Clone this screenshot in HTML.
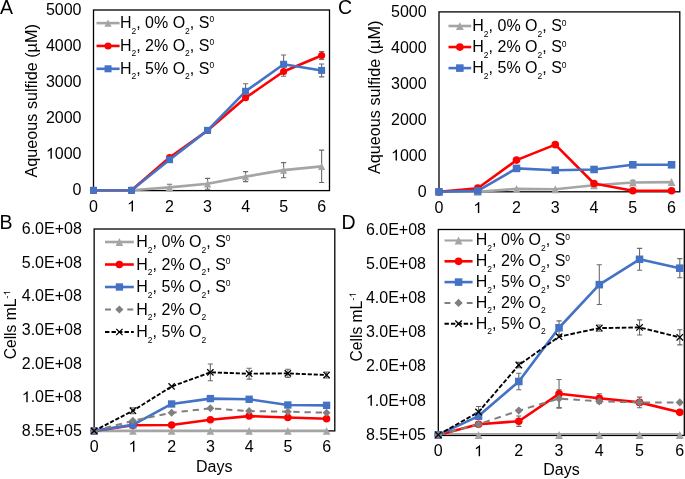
<!DOCTYPE html>
<html><head><meta charset="utf-8"><style>
html,body{margin:0;padding:0;background:#fff;width:685px;height:479px;overflow:hidden}
svg{display:block;will-change:transform}
text{font-family:"Liberation Sans", sans-serif;fill:#000}
</style></head><body>
<svg width="685" height="479" viewBox="0 0 685 479">
<rect width="685" height="479" fill="#fff"/>
<g id="pA">
<rect x="93.5" y="10" width="236" height="180.6" fill="none" stroke="#000" stroke-width="1.3"/>
<path d="M93.5 190.3L131.52 190.3L169.54 187.42L207.56 183.82L245.58 176.62L283.6 170.14L321.62 166.36" fill="none" stroke="#A5A5A5" stroke-width="2.6" stroke-linejoin="round"/>
<path d="M93.5 190.3L131.52 190.3L169.54 157.54L207.56 130.54L245.58 97.78L283.6 71.5L321.62 55.48" fill="none" stroke="#FF0000" stroke-width="2.6" stroke-linejoin="round"/>
<path d="M93.5 190.3L131.52 190.3L169.54 159.7L207.56 130.36L245.58 91.3L283.6 64.3L321.62 70.42" fill="none" stroke="#4472C4" stroke-width="2.6" stroke-linejoin="round"/>
<path d="M169.54 184.18V190.66M166.94 184.18H172.14M166.94 190.66H172.14" stroke="#6b6b6b" stroke-width="1.1" fill="none"/>
<path d="M207.56 178.42V189.22M204.96 178.42H210.16M204.96 189.22H210.16" stroke="#6b6b6b" stroke-width="1.1" fill="none"/>
<path d="M245.58 171.58V181.66M242.98 171.58H248.18M242.98 181.66H248.18" stroke="#6b6b6b" stroke-width="1.1" fill="none"/>
<path d="M283.6 162.58V177.7M281 162.58H286.2M281 177.7H286.2" stroke="#6b6b6b" stroke-width="1.1" fill="none"/>
<path d="M321.62 150.16V182.56M319.02 150.16H324.22M319.02 182.56H324.22" stroke="#6b6b6b" stroke-width="1.1" fill="none"/>
<path d="M283.6 66.82V76.18M281 66.82H286.2M281 76.18H286.2" stroke="#6b6b6b" stroke-width="1.1" fill="none"/>
<path d="M321.62 51.52V59.44M319.02 51.52H324.22M319.02 59.44H324.22" stroke="#6b6b6b" stroke-width="1.1" fill="none"/>
<path d="M245.58 83.74V98.86M242.98 83.74H248.18M242.98 98.86H248.18" stroke="#6b6b6b" stroke-width="1.1" fill="none"/>
<path d="M283.6 54.94V73.66M281 54.94H286.2M281 73.66H286.2" stroke="#6b6b6b" stroke-width="1.1" fill="none"/>
<path d="M321.62 63.94V76.9M319.02 63.94H324.22M319.02 76.9H324.22" stroke="#6b6b6b" stroke-width="1.1" fill="none"/>
<path d="M93.5 186.6L97.1 194L89.9 194Z" fill="#A5A5A5"/>
<path d="M131.52 186.6L135.12 194L127.92 194Z" fill="#A5A5A5"/>
<path d="M169.54 183.72L173.14 191.12L165.94 191.12Z" fill="#A5A5A5"/>
<path d="M207.56 180.12L211.16 187.52L203.96 187.52Z" fill="#A5A5A5"/>
<path d="M245.58 172.92L249.18 180.32L241.98 180.32Z" fill="#A5A5A5"/>
<path d="M283.6 166.44L287.2 173.84L280 173.84Z" fill="#A5A5A5"/>
<path d="M321.62 162.66L325.22 170.06L318.02 170.06Z" fill="#A5A5A5"/>
<circle cx="93.5" cy="190.3" r="3.55" fill="#FF0000"/>
<circle cx="131.52" cy="190.3" r="3.55" fill="#FF0000"/>
<circle cx="169.54" cy="157.54" r="3.55" fill="#FF0000"/>
<circle cx="207.56" cy="130.54" r="3.55" fill="#FF0000"/>
<circle cx="245.58" cy="97.78" r="3.55" fill="#FF0000"/>
<circle cx="283.6" cy="71.5" r="3.55" fill="#FF0000"/>
<circle cx="321.62" cy="55.48" r="3.55" fill="#FF0000"/>
<rect x="90" y="186.8" width="7" height="7" fill="#4472C4"/>
<rect x="128.02" y="186.8" width="7" height="7" fill="#4472C4"/>
<rect x="166.04" y="156.2" width="7" height="7" fill="#4472C4"/>
<rect x="204.06" y="126.86" width="7" height="7" fill="#4472C4"/>
<rect x="242.08" y="87.8" width="7" height="7" fill="#4472C4"/>
<rect x="280.1" y="60.8" width="7" height="7" fill="#4472C4"/>
<rect x="318.12" y="66.92" width="7" height="7" fill="#4472C4"/>
<text x="81.5" y="194.7" font-size="16" text-anchor="end">0</text>
<text x="81.5" y="158.7" font-size="16" text-anchor="end"> 000</text><path d="M763 0L583 0L583 1147Q518 1085 412 1023Q307 961 223 930L223 1104Q374 1175 487 1276Q600 1377 647 1466L763 1466Z" transform="translate(45.91 158.7) scale(0.00781 -0.00751)"/>
<text x="81.5" y="122.7" font-size="16" text-anchor="end">2000</text>
<text x="81.5" y="86.7" font-size="16" text-anchor="end">3000</text>
<text x="81.5" y="50.7" font-size="16" text-anchor="end">4000</text>
<text x="81.5" y="14.7" font-size="16" text-anchor="end">5000</text>
<text x="93.5" y="211.5" font-size="16" text-anchor="middle">0</text>
<text x="131.52" y="211.5" font-size="16" text-anchor="middle"> </text><path d="M763 0L583 0L583 1147Q518 1085 412 1023Q307 961 223 930L223 1104Q374 1175 487 1276Q600 1377 647 1466L763 1466Z" transform="translate(127.07 211.5) scale(0.00781 -0.00751)"/>
<text x="169.54" y="211.5" font-size="16" text-anchor="middle">2</text>
<text x="207.56" y="211.5" font-size="16" text-anchor="middle">3</text>
<text x="245.58" y="211.5" font-size="16" text-anchor="middle">4</text>
<text x="283.6" y="211.5" font-size="16" text-anchor="middle">5</text>
<text x="321.62" y="211.5" font-size="16" text-anchor="middle">6</text>
<text transform="translate(36.8 100.85) rotate(-90)" font-size="16.2" text-anchor="middle">Aqueous sulfide (µM)</text>
<path d="M96.5 23.1H119.6" stroke="#A5A5A5" stroke-width="2.6"/>
<path d="M108.05 19.4L111.65 26.8L104.45 26.8Z" fill="#A5A5A5"/>
<text x="119.9" y="27.9" font-size="16">H<tspan font-size="8.5" dy="5.7">2</tspan><tspan dy="-5.7">, 0% O</tspan><tspan font-size="8.5" dy="5.7">2</tspan><tspan dy="-5.7">, S</tspan><tspan font-size="8.5" dy="-5.6">0</tspan></text>
<path d="M96.5 45.95H119.6" stroke="#FF0000" stroke-width="2.6"/>
<circle cx="108.05" cy="45.95" r="3.55" fill="#FF0000"/>
<text x="119.9" y="50.75" font-size="16">H<tspan font-size="8.5" dy="5.7">2</tspan><tspan dy="-5.7">, 2% O</tspan><tspan font-size="8.5" dy="5.7">2</tspan><tspan dy="-5.7">, S</tspan><tspan font-size="8.5" dy="-5.6">0</tspan></text>
<path d="M96.5 68.8H119.6" stroke="#4472C4" stroke-width="2.6"/>
<rect x="104.55" y="65.3" width="7" height="7" fill="#4472C4"/>
<text x="119.9" y="73.6" font-size="16">H<tspan font-size="8.5" dy="5.7">2</tspan><tspan dy="-5.7">, 5% O</tspan><tspan font-size="8.5" dy="5.7">2</tspan><tspan dy="-5.7">, S</tspan><tspan font-size="8.5" dy="-5.6">0</tspan></text>
<text x="-0.1" y="13.8" font-size="19.5">A</text>
</g>
<g id="pC">
<rect x="439" y="11.9" width="240.8" height="179.9" fill="none" stroke="#000" stroke-width="1.3"/>
<path d="M439 191.8L477.76 191.8L516.52 188.92L555.28 189.28L594.04 185.32L632.8 182.44L671.56 182.08" fill="none" stroke="#A5A5A5" stroke-width="2.6" stroke-linejoin="round"/>
<path d="M439 191.8L477.76 188.2L516.52 160.12L555.28 144.64L594.04 183.52L632.8 190.72L671.56 190.72" fill="none" stroke="#FF0000" stroke-width="2.6" stroke-linejoin="round"/>
<path d="M439 191.8L477.76 190.9L516.52 168.4L555.28 170.2L594.04 169.48L632.8 164.8L671.56 164.8" fill="none" stroke="#4472C4" stroke-width="2.6" stroke-linejoin="round"/>
<path d="M594.04 183.88V186.76M591.44 183.88H596.64M591.44 186.76H596.64" stroke="#6b6b6b" stroke-width="1.1" fill="none"/>
<path d="M632.8 180.28V184.6M630.2 180.28H635.4M630.2 184.6H635.4" stroke="#6b6b6b" stroke-width="1.1" fill="none"/>
<path d="M439 187.8L442.89 195.8L435.11 195.8Z" fill="#A5A5A5"/>
<path d="M477.76 187.8L481.65 195.8L473.87 195.8Z" fill="#A5A5A5"/>
<path d="M516.52 184.92L520.41 192.92L512.63 192.92Z" fill="#A5A5A5"/>
<path d="M555.28 185.28L559.17 193.28L551.39 193.28Z" fill="#A5A5A5"/>
<path d="M594.04 181.32L597.93 189.32L590.15 189.32Z" fill="#A5A5A5"/>
<path d="M632.8 178.44L636.69 186.44L628.91 186.44Z" fill="#A5A5A5"/>
<path d="M671.56 178.08L675.45 186.08L667.67 186.08Z" fill="#A5A5A5"/>
<circle cx="439" cy="191.8" r="3.83" fill="#FF0000"/>
<circle cx="477.76" cy="188.2" r="3.83" fill="#FF0000"/>
<circle cx="516.52" cy="160.12" r="3.83" fill="#FF0000"/>
<circle cx="555.28" cy="144.64" r="3.83" fill="#FF0000"/>
<circle cx="594.04" cy="183.52" r="3.83" fill="#FF0000"/>
<circle cx="632.8" cy="190.72" r="3.83" fill="#FF0000"/>
<circle cx="671.56" cy="190.72" r="3.83" fill="#FF0000"/>
<rect x="435.22" y="188.02" width="7.56" height="7.56" fill="#4472C4"/>
<rect x="473.98" y="187.12" width="7.56" height="7.56" fill="#4472C4"/>
<rect x="512.74" y="164.62" width="7.56" height="7.56" fill="#4472C4"/>
<rect x="551.5" y="166.42" width="7.56" height="7.56" fill="#4472C4"/>
<rect x="590.26" y="165.7" width="7.56" height="7.56" fill="#4472C4"/>
<rect x="629.02" y="161.02" width="7.56" height="7.56" fill="#4472C4"/>
<rect x="667.78" y="161.02" width="7.56" height="7.56" fill="#4472C4"/>
<text x="426.6" y="196.5" font-size="16" text-anchor="end">0</text>
<text x="426.6" y="160.5" font-size="16" text-anchor="end"> 000</text><path d="M763 0L583 0L583 1147Q518 1085 412 1023Q307 961 223 930L223 1104Q374 1175 487 1276Q600 1377 647 1466L763 1466Z" transform="translate(391.01 160.5) scale(0.00781 -0.00751)"/>
<text x="426.6" y="124.5" font-size="16" text-anchor="end">2000</text>
<text x="426.6" y="88.5" font-size="16" text-anchor="end">3000</text>
<text x="426.6" y="52.5" font-size="16" text-anchor="end">4000</text>
<text x="426.6" y="16.5" font-size="16" text-anchor="end">5000</text>
<text x="439" y="213" font-size="16" text-anchor="middle">0</text>
<text x="477.76" y="213" font-size="16" text-anchor="middle"> </text><path d="M763 0L583 0L583 1147Q518 1085 412 1023Q307 961 223 930L223 1104Q374 1175 487 1276Q600 1377 647 1466L763 1466Z" transform="translate(473.31 213) scale(0.00781 -0.00751)"/>
<text x="516.52" y="213" font-size="16" text-anchor="middle">2</text>
<text x="555.28" y="213" font-size="16" text-anchor="middle">3</text>
<text x="594.04" y="213" font-size="16" text-anchor="middle">4</text>
<text x="632.8" y="213" font-size="16" text-anchor="middle">5</text>
<text x="671.56" y="213" font-size="16" text-anchor="middle">6</text>
<text transform="translate(379.6 97.35) rotate(-90)" font-size="16.2" text-anchor="middle">Aqueous sulfide (µM)</text>
<path d="M448.5 26H471.2" stroke="#A5A5A5" stroke-width="2.6"/>
<path d="M459.85 22L463.74 30L455.96 30Z" fill="#A5A5A5"/>
<text x="472.3" y="31.2" font-size="16">H<tspan font-size="8.5" dy="5.7">2</tspan><tspan dy="-5.7">, 0% O</tspan><tspan font-size="8.5" dy="5.7">2</tspan><tspan dy="-5.7">, S</tspan><tspan font-size="8.5" dy="-5.6">0</tspan></text>
<path d="M448.5 47.05H471.2" stroke="#FF0000" stroke-width="2.6"/>
<circle cx="459.85" cy="47.05" r="3.83" fill="#FF0000"/>
<text x="472.3" y="52.25" font-size="16">H<tspan font-size="8.5" dy="5.7">2</tspan><tspan dy="-5.7">, 2% O</tspan><tspan font-size="8.5" dy="5.7">2</tspan><tspan dy="-5.7">, S</tspan><tspan font-size="8.5" dy="-5.6">0</tspan></text>
<path d="M448.5 68.1H471.2" stroke="#4472C4" stroke-width="2.6"/>
<rect x="456.07" y="64.32" width="7.56" height="7.56" fill="#4472C4"/>
<text x="472.3" y="73.3" font-size="16">H<tspan font-size="8.5" dy="5.7">2</tspan><tspan dy="-5.7">, 5% O</tspan><tspan font-size="8.5" dy="5.7">2</tspan><tspan dy="-5.7">, S</tspan><tspan font-size="8.5" dy="-5.6">0</tspan></text>
<text x="337.9" y="14.25" font-size="19.5">C</text>
</g>
<g id="pB">
<rect x="94.15" y="229" width="240.65" height="201.9" fill="none" stroke="#000" stroke-width="1.3"/>
<path d="M94.15 430.9L132.89 430.9L171.63 430.9L210.37 430.9L249.11 430.9L287.85 430.9L326.59 430.9" fill="none" stroke="#A5A5A5" stroke-width="2.6" stroke-linejoin="round"/>
<path d="M94.15 430.9L132.89 425.18L171.63 425.01L210.37 419.8L249.11 416.09L287.85 417.44L326.59 418.79" fill="none" stroke="#FF0000" stroke-width="2.6" stroke-linejoin="round"/>
<path d="M94.15 430.9L132.89 424.84L171.63 403.98L210.37 398.6L249.11 399.27L287.85 404.99L326.59 405.33" fill="none" stroke="#4472C4" stroke-width="2.6" stroke-linejoin="round"/>
<path d="M94.15 430.9L132.89 420.8L171.63 412.73L210.37 408.35L249.11 411.05L287.85 411.72L326.59 412.73" fill="none" stroke="#7F7F7F" stroke-width="2" stroke-linejoin="round" stroke-dasharray="6.3 4.9"/>
<path d="M94.15 430.9L132.89 410.71L171.63 386.48L210.37 372.35L249.11 373.69L287.85 373.36L326.59 375.04" fill="none" stroke="#000000" stroke-width="1.9" stroke-linejoin="round" stroke-dasharray="4.2 1.8"/>
<path d="M132.89 407.68V413.74M130.29 407.68H135.49M130.29 413.74H135.49" stroke="#6b6b6b" stroke-width="1.1" fill="none"/>
<path d="M210.37 363.94V380.76M207.77 363.94H212.97M207.77 380.76H212.97" stroke="#6b6b6b" stroke-width="1.1" fill="none"/>
<path d="M249.11 368.31V379.08M246.51 368.31H251.71M246.51 379.08H251.71" stroke="#6b6b6b" stroke-width="1.1" fill="none"/>
<path d="M287.85 369.32V377.4M285.25 369.32H290.45M285.25 377.4H290.45" stroke="#6b6b6b" stroke-width="1.1" fill="none"/>
<path d="M326.59 372.01V378.07M323.99 372.01H329.19M323.99 378.07H329.19" stroke="#6b6b6b" stroke-width="1.1" fill="none"/>
<path d="M94.15 427.01L97.93 434.78L90.37 434.78Z" fill="#A5A5A5"/>
<path d="M132.89 427.01L136.67 434.78L129.11 434.78Z" fill="#A5A5A5"/>
<path d="M171.63 427.01L175.41 434.78L167.85 434.78Z" fill="#A5A5A5"/>
<path d="M210.37 427.01L214.15 434.78L206.59 434.78Z" fill="#A5A5A5"/>
<path d="M249.11 427.01L252.89 434.78L245.33 434.78Z" fill="#A5A5A5"/>
<path d="M287.85 427.01L291.63 434.78L284.07 434.78Z" fill="#A5A5A5"/>
<path d="M326.59 427.01L330.37 434.78L322.81 434.78Z" fill="#A5A5A5"/>
<circle cx="94.15" cy="430.9" r="3.73" fill="#FF0000"/>
<circle cx="132.89" cy="425.18" r="3.73" fill="#FF0000"/>
<circle cx="171.63" cy="425.01" r="3.73" fill="#FF0000"/>
<circle cx="210.37" cy="419.8" r="3.73" fill="#FF0000"/>
<circle cx="249.11" cy="416.09" r="3.73" fill="#FF0000"/>
<circle cx="287.85" cy="417.44" r="3.73" fill="#FF0000"/>
<circle cx="326.59" cy="418.79" r="3.73" fill="#FF0000"/>
<rect x="90.48" y="427.22" width="7.35" height="7.35" fill="#4472C4"/>
<rect x="129.22" y="421.17" width="7.35" height="7.35" fill="#4472C4"/>
<rect x="167.95" y="400.3" width="7.35" height="7.35" fill="#4472C4"/>
<rect x="206.69" y="394.92" width="7.35" height="7.35" fill="#4472C4"/>
<rect x="245.44" y="395.59" width="7.35" height="7.35" fill="#4472C4"/>
<rect x="284.18" y="401.31" width="7.35" height="7.35" fill="#4472C4"/>
<rect x="322.92" y="401.65" width="7.35" height="7.35" fill="#4472C4"/>
<path d="M94.15 426.91L98.14 430.9L94.15 434.89L90.16 430.9Z" fill="#7F7F7F"/>
<path d="M132.89 416.81L136.88 420.8L132.89 424.79L128.9 420.8Z" fill="#7F7F7F"/>
<path d="M171.63 408.74L175.62 412.73L171.63 416.72L167.64 412.73Z" fill="#7F7F7F"/>
<path d="M210.37 404.36L214.36 408.35L210.37 412.34L206.38 408.35Z" fill="#7F7F7F"/>
<path d="M249.11 407.06L253.1 411.05L249.11 415.04L245.12 411.05Z" fill="#7F7F7F"/>
<path d="M287.85 407.73L291.84 411.72L287.85 415.71L283.86 411.72Z" fill="#7F7F7F"/>
<path d="M326.59 408.74L330.58 412.73L326.59 416.72L322.6 412.73Z" fill="#7F7F7F"/>
<path d="M91 427.75L97.3 434.05M97.3 427.75L91 434.05" stroke="#000000" stroke-width="1.3" fill="none"/>
<path d="M129.74 407.56L136.04 413.86M136.04 407.56L129.74 413.86" stroke="#000000" stroke-width="1.3" fill="none"/>
<path d="M168.48 383.33L174.78 389.63M174.78 383.33L168.48 389.63" stroke="#000000" stroke-width="1.3" fill="none"/>
<path d="M207.22 369.2L213.52 375.5M213.52 369.2L207.22 375.5" stroke="#000000" stroke-width="1.3" fill="none"/>
<path d="M245.96 370.55L252.26 376.84M252.26 370.55L245.96 376.84" stroke="#000000" stroke-width="1.3" fill="none"/>
<path d="M284.7 370.21L291 376.51M291 370.21L284.7 376.51" stroke="#000000" stroke-width="1.3" fill="none"/>
<path d="M323.44 371.89L329.74 378.19M329.74 371.89L323.44 378.19" stroke="#000000" stroke-width="1.3" fill="none"/>
<text x="81.8" y="435.9" font-size="16" text-anchor="end">8.5E+05</text>
<text x="81.8" y="402.25" font-size="16" text-anchor="end"> .0E+08</text><path d="M763 0L583 0L583 1147Q518 1085 412 1023Q307 961 223 930L223 1104Q374 1175 487 1276Q600 1377 647 1466L763 1466Z" transform="translate(21.75 402.25) scale(0.00781 -0.00751)"/>
<text x="81.8" y="368.6" font-size="16" text-anchor="end">2.0E+08</text>
<text x="81.8" y="334.95" font-size="16" text-anchor="end">3.0E+08</text>
<text x="81.8" y="301.3" font-size="16" text-anchor="end">4.0E+08</text>
<text x="81.8" y="267.65" font-size="16" text-anchor="end">5.0E+08</text>
<text x="81.8" y="234" font-size="16" text-anchor="end">6.0E+08</text>
<text x="94.15" y="451.8" font-size="16" text-anchor="middle">0</text>
<text x="132.89" y="451.8" font-size="16" text-anchor="middle"> </text><path d="M763 0L583 0L583 1147Q518 1085 412 1023Q307 961 223 930L223 1104Q374 1175 487 1276Q600 1377 647 1466L763 1466Z" transform="translate(128.44 451.8) scale(0.00781 -0.00751)"/>
<text x="171.63" y="451.8" font-size="16" text-anchor="middle">2</text>
<text x="210.37" y="451.8" font-size="16" text-anchor="middle">3</text>
<text x="249.11" y="451.8" font-size="16" text-anchor="middle">4</text>
<text x="287.85" y="451.8" font-size="16" text-anchor="middle">5</text>
<text x="326.59" y="451.8" font-size="16" text-anchor="middle">6</text>
<g transform="translate(16.2 359.3) rotate(-90) scale(1 1)"><text x="0" y="0" font-size="15.6">Cells mL<tspan font-size="9.5" dy="-6">- </tspan></text><path d="M763 0L583 0L583 1147Q518 1085 412 1023Q307 961 223 930L223 1104Q374 1175 487 1276Q600 1377 647 1466L763 1466Z" transform="translate(63.84 -6) scale(0.00464 -0.00446)"/></g>
<text x="214.3" y="471.5" font-size="16" text-anchor="middle">Days</text>
<path d="M105 242H133.8" stroke="#A5A5A5" stroke-width="2.6"/>
<path d="M119.4 238.12L123.18 245.88L115.62 245.88Z" fill="#A5A5A5"/>
<text x="136.3" y="247" font-size="16">H<tspan font-size="8.5" dy="5.7">2</tspan><tspan dy="-5.7">, 0% O</tspan><tspan font-size="8.5" dy="5.7">2</tspan><tspan dy="-5.7">, S</tspan><tspan font-size="8.5" dy="-5.6">0</tspan></text>
<path d="M105 264.5H133.8" stroke="#FF0000" stroke-width="2.6"/>
<circle cx="119.4" cy="264.5" r="3.73" fill="#FF0000"/>
<text x="136.3" y="269.5" font-size="16">H<tspan font-size="8.5" dy="5.7">2</tspan><tspan dy="-5.7">, 2% O</tspan><tspan font-size="8.5" dy="5.7">2</tspan><tspan dy="-5.7">, S</tspan><tspan font-size="8.5" dy="-5.6">0</tspan></text>
<path d="M105 287H133.8" stroke="#4472C4" stroke-width="2.6"/>
<rect x="115.73" y="283.32" width="7.35" height="7.35" fill="#4472C4"/>
<text x="136.3" y="292" font-size="16">H<tspan font-size="8.5" dy="5.7">2</tspan><tspan dy="-5.7">, 5% O</tspan><tspan font-size="8.5" dy="5.7">2</tspan><tspan dy="-5.7">, S</tspan><tspan font-size="8.5" dy="-5.6">0</tspan></text>
<path d="M105 309.5H133.8" stroke="#7F7F7F" stroke-width="2" stroke-dasharray="5.9 5.25"/>
<path d="M119.4 305.51L123.39 309.5L119.4 313.49L115.41 309.5Z" fill="#7F7F7F"/>
<text x="136.3" y="314.5" font-size="16">H<tspan font-size="8.5" dy="5.7">2</tspan><tspan dy="-5.7">, 2% O</tspan><tspan font-size="8.5" dy="5.7">2</tspan></text>
<path d="M105 332H133.8" stroke="#000000" stroke-width="1.9" stroke-dasharray="4.4 2.1"/>
<path d="M116.25 328.85L122.55 335.15M122.55 328.85L116.25 335.15" stroke="#000000" stroke-width="1.3" fill="none"/>
<text x="136.3" y="337" font-size="16">H<tspan font-size="8.5" dy="5.7">2</tspan><tspan dy="-5.7">, 5% O</tspan><tspan font-size="8.5" dy="5.7">2</tspan></text>
<text x="-0.6" y="228.5" font-size="19.5">B</text>
</g>
<g id="pD">
<rect x="438.3" y="229.5" width="246" height="205.95" fill="none" stroke="#000" stroke-width="1.3"/>
<path d="M438.3 434L478.55 434L518.8 434L559.05 434L599.3 434L639.55 434L679.8 434" fill="none" stroke="#A5A5A5" stroke-width="2.1" stroke-linejoin="round"/>
<path d="M438.3 434.9L478.55 424.29L518.8 421.21L559.05 393.82L599.3 398.27L639.55 402.38L679.8 412.31" fill="none" stroke="#FF0000" stroke-width="2.6" stroke-linejoin="round"/>
<path d="M438.3 434.9L478.55 416.07L518.8 381.5L559.05 327.76L599.3 284.63L639.55 259.3L679.8 268.2" fill="none" stroke="#4472C4" stroke-width="2.6" stroke-linejoin="round"/>
<path d="M438.3 434.9L478.55 424.29L518.8 410.6L559.05 398.62L599.3 401.35L639.55 402.38L679.8 402.38" fill="none" stroke="#7F7F7F" stroke-width="2" stroke-linejoin="round" stroke-dasharray="6.6 5.1"/>
<path d="M438.3 434.9L478.55 411.97L518.8 365.07L559.05 336.66L599.3 328.1L639.55 327.42L679.8 337.34" fill="none" stroke="#000000" stroke-width="1.9" stroke-linejoin="round" stroke-dasharray="4.6 1.9"/>
<path d="M518.8 416.07V426.34M516.2 416.07H521.4M516.2 426.34H521.4" stroke="#6b6b6b" stroke-width="1.1" fill="none"/>
<path d="M559.05 379.45V408.2M556.45 379.45H561.65M556.45 408.2H561.65" stroke="#6b6b6b" stroke-width="1.1" fill="none"/>
<path d="M599.3 393.82V402.72M596.7 393.82H601.9M596.7 402.72H601.9" stroke="#6b6b6b" stroke-width="1.1" fill="none"/>
<path d="M639.55 397.08V407.69M636.95 397.08H642.15M636.95 407.69H642.15" stroke="#6b6b6b" stroke-width="1.1" fill="none"/>
<path d="M478.55 412.65V419.5M475.95 412.65H481.15M475.95 419.5H481.15" stroke="#6b6b6b" stroke-width="1.1" fill="none"/>
<path d="M518.8 373.29V389.72M516.2 373.29H521.4M516.2 389.72H521.4" stroke="#6b6b6b" stroke-width="1.1" fill="none"/>
<path d="M559.05 320.91V334.61M556.45 320.91H561.65M556.45 334.61H561.65" stroke="#6b6b6b" stroke-width="1.1" fill="none"/>
<path d="M599.3 264.78V304.48M596.7 264.78H601.9M596.7 304.48H601.9" stroke="#6b6b6b" stroke-width="1.1" fill="none"/>
<path d="M639.55 248.35V270.25M636.95 248.35H642.15M636.95 270.25H642.15" stroke="#6b6b6b" stroke-width="1.1" fill="none"/>
<path d="M679.8 258.62V277.78M677.2 258.62H682.4M677.2 277.78H682.4" stroke="#6b6b6b" stroke-width="1.1" fill="none"/>
<path d="M559.05 389.72V407.52M556.45 389.72H561.65M556.45 407.52H561.65" stroke="#6b6b6b" stroke-width="1.1" fill="none"/>
<path d="M599.3 399.3V403.41M596.7 399.3H601.9M596.7 403.41H601.9" stroke="#6b6b6b" stroke-width="1.1" fill="none"/>
<path d="M639.55 399.64V405.12M636.95 399.64H642.15M636.95 405.12H642.15" stroke="#6b6b6b" stroke-width="1.1" fill="none"/>
<path d="M478.55 406.49V417.44M475.95 406.49H481.15M475.95 417.44H481.15" stroke="#6b6b6b" stroke-width="1.1" fill="none"/>
<path d="M518.8 362.33V367.81M516.2 362.33H521.4M516.2 367.81H521.4" stroke="#6b6b6b" stroke-width="1.1" fill="none"/>
<path d="M599.3 325.02V331.18M596.7 325.02H601.9M596.7 331.18H601.9" stroke="#6b6b6b" stroke-width="1.1" fill="none"/>
<path d="M639.55 319.89V334.95M636.95 319.89H642.15M636.95 334.95H642.15" stroke="#6b6b6b" stroke-width="1.1" fill="none"/>
<path d="M679.8 329.81V344.88M677.2 329.81H682.4M677.2 344.88H682.4" stroke="#6b6b6b" stroke-width="1.1" fill="none"/>
<path d="M438.3 430.9L442.19 438.9L434.41 438.9Z" fill="#A5A5A5"/>
<path d="M478.55 430.9L482.44 438.9L474.66 438.9Z" fill="#A5A5A5"/>
<path d="M559.05 430.9L562.94 438.9L555.16 438.9Z" fill="#A5A5A5"/>
<path d="M599.3 430.9L603.19 438.9L595.41 438.9Z" fill="#A5A5A5"/>
<path d="M639.55 430.9L643.44 438.9L635.66 438.9Z" fill="#A5A5A5"/>
<path d="M679.8 430.9L683.69 438.9L675.91 438.9Z" fill="#A5A5A5"/>
<circle cx="438.3" cy="434.9" r="3.83" fill="#FF0000"/>
<circle cx="478.55" cy="424.29" r="3.83" fill="#FF0000"/>
<circle cx="518.8" cy="421.21" r="3.83" fill="#FF0000"/>
<circle cx="559.05" cy="393.82" r="3.83" fill="#FF0000"/>
<circle cx="599.3" cy="398.27" r="3.83" fill="#FF0000"/>
<circle cx="639.55" cy="402.38" r="3.83" fill="#FF0000"/>
<circle cx="679.8" cy="412.31" r="3.83" fill="#FF0000"/>
<rect x="434.52" y="431.12" width="7.56" height="7.56" fill="#4472C4"/>
<rect x="474.77" y="412.29" width="7.56" height="7.56" fill="#4472C4"/>
<rect x="515.02" y="377.72" width="7.56" height="7.56" fill="#4472C4"/>
<rect x="555.27" y="323.98" width="7.56" height="7.56" fill="#4472C4"/>
<rect x="595.52" y="280.85" width="7.56" height="7.56" fill="#4472C4"/>
<rect x="635.77" y="255.52" width="7.56" height="7.56" fill="#4472C4"/>
<rect x="676.02" y="264.42" width="7.56" height="7.56" fill="#4472C4"/>
<path d="M438.3 430.8L442.4 434.9L438.3 439L434.2 434.9Z" fill="#7F7F7F"/>
<path d="M478.55 420.18L482.65 424.29L478.55 428.39L474.45 424.29Z" fill="#7F7F7F"/>
<path d="M518.8 406.49L522.9 410.6L518.8 414.7L514.7 410.6Z" fill="#7F7F7F"/>
<path d="M559.05 394.51L563.15 398.62L559.05 402.72L554.95 398.62Z" fill="#7F7F7F"/>
<path d="M599.3 397.25L603.4 401.35L599.3 405.46L595.2 401.35Z" fill="#7F7F7F"/>
<path d="M639.55 398.28L643.65 402.38L639.55 406.49L635.45 402.38Z" fill="#7F7F7F"/>
<path d="M679.8 398.28L683.9 402.38L679.8 406.49L675.7 402.38Z" fill="#7F7F7F"/>
<path d="M435.06 431.66L441.54 438.14M441.54 431.66L435.06 438.14" stroke="#000000" stroke-width="1.3" fill="none"/>
<path d="M475.31 408.73L481.79 415.21M481.79 408.73L475.31 415.21" stroke="#000000" stroke-width="1.3" fill="none"/>
<path d="M515.56 361.83L522.04 368.31M522.04 361.83L515.56 368.31" stroke="#000000" stroke-width="1.3" fill="none"/>
<path d="M555.81 333.42L562.29 339.9M562.29 333.42L555.81 339.9" stroke="#000000" stroke-width="1.3" fill="none"/>
<path d="M596.06 324.86L602.54 331.34M602.54 324.86L596.06 331.34" stroke="#000000" stroke-width="1.3" fill="none"/>
<path d="M636.31 324.18L642.79 330.66M642.79 324.18L636.31 330.66" stroke="#000000" stroke-width="1.3" fill="none"/>
<path d="M676.56 334.1L683.04 340.58M683.04 334.1L676.56 340.58" stroke="#000000" stroke-width="1.3" fill="none"/>
<text x="426" y="439.9" font-size="16" text-anchor="end">8.5E+05</text>
<text x="426" y="405.67" font-size="16" text-anchor="end"> .0E+08</text><path d="M763 0L583 0L583 1147Q518 1085 412 1023Q307 961 223 930L223 1104Q374 1175 487 1276Q600 1377 647 1466L763 1466Z" transform="translate(365.95 405.67) scale(0.00781 -0.00751)"/>
<text x="426" y="371.44" font-size="16" text-anchor="end">2.0E+08</text>
<text x="426" y="337.21" font-size="16" text-anchor="end">3.0E+08</text>
<text x="426" y="302.98" font-size="16" text-anchor="end">4.0E+08</text>
<text x="426" y="268.75" font-size="16" text-anchor="end">5.0E+08</text>
<text x="426" y="234.52" font-size="16" text-anchor="end">6.0E+08</text>
<text x="438.3" y="456.2" font-size="16" text-anchor="middle">0</text>
<text x="478.55" y="456.2" font-size="16" text-anchor="middle"> </text><path d="M763 0L583 0L583 1147Q518 1085 412 1023Q307 961 223 930L223 1104Q374 1175 487 1276Q600 1377 647 1466L763 1466Z" transform="translate(474.1 456.2) scale(0.00781 -0.00751)"/>
<text x="518.8" y="456.2" font-size="16" text-anchor="middle">2</text>
<text x="559.05" y="456.2" font-size="16" text-anchor="middle">3</text>
<text x="599.3" y="456.2" font-size="16" text-anchor="middle">4</text>
<text x="639.55" y="456.2" font-size="16" text-anchor="middle">5</text>
<text x="679.8" y="456.2" font-size="16" text-anchor="middle">6</text>
<g transform="translate(361.9 361.4) rotate(-90) scale(1 1)"><text x="0" y="0" font-size="15.6">Cells mL<tspan font-size="9.5" dy="-6">- </tspan></text><path d="M763 0L583 0L583 1147Q518 1085 412 1023Q307 961 223 930L223 1104Q374 1175 487 1276Q600 1377 647 1466L763 1466Z" transform="translate(63.84 -6) scale(0.00464 -0.00446)"/></g>
<text x="561.5" y="475" font-size="16" text-anchor="middle">Days</text>
<path d="M444.5 240.5H472.6" stroke="#A5A5A5" stroke-width="2.1"/>
<path d="M458.55 236.5L462.44 244.5L454.66 244.5Z" fill="#A5A5A5"/>
<text x="475.8" y="245.3" font-size="16">H<tspan font-size="8.5" dy="5.7">2</tspan><tspan dy="-5.7">, 0% O</tspan><tspan font-size="8.5" dy="5.7">2</tspan><tspan dy="-5.7">, S</tspan><tspan font-size="8.5" dy="-5.6">0</tspan></text>
<path d="M444.5 261.3H472.6" stroke="#FF0000" stroke-width="2.6"/>
<circle cx="458.55" cy="261.3" r="3.83" fill="#FF0000"/>
<text x="475.8" y="266.1" font-size="16">H<tspan font-size="8.5" dy="5.7">2</tspan><tspan dy="-5.7">, 2% O</tspan><tspan font-size="8.5" dy="5.7">2</tspan><tspan dy="-5.7">, S</tspan><tspan font-size="8.5" dy="-5.6">0</tspan></text>
<path d="M444.5 282.1H472.6" stroke="#4472C4" stroke-width="2.6"/>
<rect x="454.77" y="278.32" width="7.56" height="7.56" fill="#4472C4"/>
<text x="475.8" y="286.9" font-size="16">H<tspan font-size="8.5" dy="5.7">2</tspan><tspan dy="-5.7">, 5% O</tspan><tspan font-size="8.5" dy="5.7">2</tspan><tspan dy="-5.7">, S</tspan><tspan font-size="8.5" dy="-5.6">0</tspan></text>
<path d="M444.5 302.9H472.6" stroke="#7F7F7F" stroke-width="2" stroke-dasharray="5.9 5.25"/>
<path d="M458.55 298.8L462.65 302.9L458.55 307L454.45 302.9Z" fill="#7F7F7F"/>
<text x="475.8" y="307.7" font-size="16">H<tspan font-size="8.5" dy="5.7">2</tspan><tspan dy="-5.7">, 2% O</tspan><tspan font-size="8.5" dy="5.7">2</tspan></text>
<path d="M444.5 323.7H472.6" stroke="#000000" stroke-width="1.9" stroke-dasharray="4.4 2.0"/>
<path d="M455.31 320.46L461.79 326.94M461.79 320.46L455.31 326.94" stroke="#000000" stroke-width="1.3" fill="none"/>
<text x="475.8" y="328.5" font-size="16">H<tspan font-size="8.5" dy="5.7">2</tspan><tspan dy="-5.7">, 5% O</tspan><tspan font-size="8.5" dy="5.7">2</tspan></text>
<text x="341.6" y="228.5" font-size="19.5">D</text>
</g>
</svg>
</body></html>
